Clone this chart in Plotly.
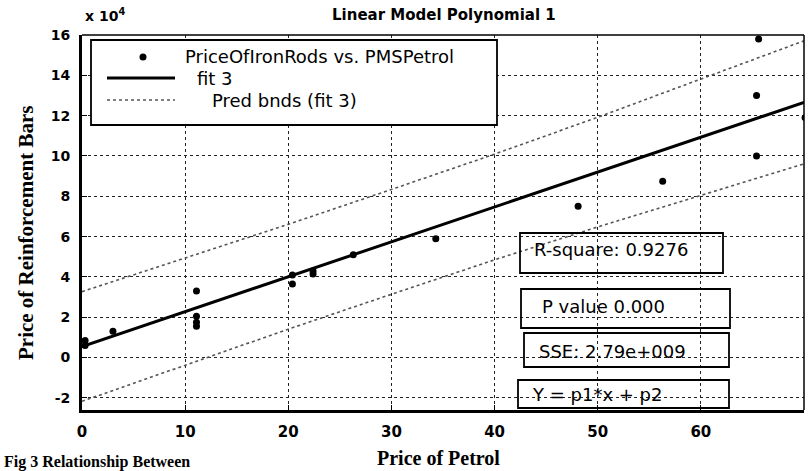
import plotly.graph_objects as go

# Observed data: price of petrol vs price of iron rods (reinforcement bars)
petrol_price = [0.3, 0.3, 3.0, 11.1, 11.1, 11.1, 11.1, 20.4, 20.4, 22.4, 22.4,
                26.3, 34.3, 48.1, 56.3, 65.4, 65.4, 65.6, 70.1]
rod_price = [8500, 6000, 13000, 33000, 20500, 17500, 15500, 41000, 36500, 43000, 41500,
             51000, 59000, 75000, 87500, 100000, 130000, 158000, 119000]

# Linear model Y = p1*x + p2
p1 = 1730.0
p2 = 5500.0

# Prediction bounds of the fit
band_x = [0, 10, 20, 30, 40, 50, 60, 70]
band_upper = [32700, 49300, 66100, 83400, 100900, 119200, 138100, 157100]
band_lower = [-21700, -3700, 14100, 31400, 48500, 64800, 80500, 96100]

# Axis ticks
x_ticks = [0, 10, 20, 30, 40, 50, 60, 70]
y_ticks = [-20000, 0, 20000, 40000, 60000, 80000, 100000, 120000, 140000, 160000]
y_ticktext = ["-2", "0", "2", "4", "6", "8", "10", "12", "14", "16"]

# Fit statistics text
stats = ["R-square: 0.9276", "P value 0.000", "SSE: 2.79e+009", "Y = p1*x + p2"]

W, H = 808, 471
L, R, T, B = 82, 804, 35, 410


def px(x):
    return (x - L) / (R - L)


def py(y):
    return (B - y) / (B - T)


fit_x = [x_ticks[0], x_ticks[-1]]
fit_y = [p1 * v + p2 for v in fit_x]

fig = go.Figure()
fig.add_trace(go.Scatter(x=band_x, y=band_upper, mode="lines",
                         line=dict(color="#555555", width=1.6, dash="dot"),
                         showlegend=False, hoverinfo="skip"))
fig.add_trace(go.Scatter(x=band_x, y=band_lower, mode="lines",
                         line=dict(color="#555555", width=1.6, dash="dot"),
                         showlegend=False, hoverinfo="skip"))
fig.add_trace(go.Scatter(x=fit_x, y=fit_y, mode="lines",
                         line=dict(color="black", width=3),
                         showlegend=False))
fig.add_trace(go.Scatter(x=petrol_price, y=rod_price, mode="markers",
                         marker=dict(color="black", size=7),
                         showlegend=False))

shapes = []
# top and right frame lines
shapes.append(dict(type="line", xref="paper", yref="paper", x0=0, x1=1, y0=1, y1=1,
                   line=dict(color="black", width=1.5), layer="above"))
shapes.append(dict(type="line", xref="paper", yref="paper", x0=1, x1=1, y0=0, y1=1,
                   line=dict(color="black", width=1.5), layer="above"))

# legend box
shapes.append(dict(type="rect", xref="paper", yref="paper",
                   x0=px(91), x1=px(497), y0=py(125), y1=py(40),
                   fillcolor="white", line=dict(color="black", width=1.8), layer="above"))
shapes.append(dict(type="circle", xref="paper", yref="paper",
                   x0=px(139.5), x1=px(146.5), y0=py(60.5), y1=py(53.5),
                   fillcolor="black", line=dict(color="black", width=0), layer="above"))
shapes.append(dict(type="line", xref="paper", yref="paper",
                   x0=px(107), x1=px(175), y0=py(78), y1=py(78),
                   line=dict(color="black", width=3), layer="above"))
shapes.append(dict(type="line", xref="paper", yref="paper",
                   x0=px(107), x1=px(175), y0=py(100), y1=py(100),
                   line=dict(color="#555555", width=1.5, dash="dot"), layer="above"))

# statistic boxes
boxes = [(520, 723, 233, 273), (521, 730, 289, 328), (524, 729, 333, 367), (518, 729, 380, 408)]
text_pos = [(532, 250), (540, 306), (537, 351), (530, 394)]
for (x0, x1, y0, y1) in boxes:
    shapes.append(dict(type="rect", xref="paper", yref="paper",
                       x0=px(x0), x1=px(x1), y0=py(y1), y1=py(y0),
                       line=dict(color="black", width=1.8), layer="above"))

annotations = []
sans = "DejaVu Sans"
legend_items = [("PriceOfIronRods vs. PMSPetrol", 183, 57),
                ("fit 3", 195, 78),
                ("Pred bnds (fit 3)", 210, 100)]
for txt, x, y in legend_items:
    annotations.append(dict(text=txt, xref="paper", yref="paper", x=px(x), y=py(y),
                            xanchor="left", yanchor="middle", showarrow=False,
                            font=dict(family=sans, size=18, color="black")))
for txt, (x, y) in zip(stats, text_pos):
    annotations.append(dict(text=txt, xref="paper", yref="paper", x=px(x), y=py(y),
                            xanchor="left", yanchor="middle", showarrow=False,
                            font=dict(family=sans, size=18, color="black")))

# exponent label
annotations.append(dict(text="x 10<sup>4</sup>", xref="paper", yref="paper",
                        x=px(83), y=py(15), xanchor="left", yanchor="middle",
                        showarrow=False,
                        font=dict(family=sans, size=14, color="black", weight="bold")))
# title
annotations.append(dict(text="Linear Model Polynomial 1", xref="paper", yref="paper",
                        x=px(444), y=py(15), xanchor="center", yanchor="middle",
                        showarrow=False,
                        font=dict(family=sans, size=15, color="black", weight="bold")))
# axis titles
serif = "Liberation Serif"
annotations.append(dict(text="Price of Petrol", xref="paper", yref="paper",
                        x=px(438), y=py(458), xanchor="center", yanchor="middle",
                        showarrow=False,
                        font=dict(family=serif, size=20, color="black", weight="bold")))
annotations.append(dict(text="Price of Reinforcement Bars", xref="paper", yref="paper",
                        x=px(26), y=py(233), xanchor="center", yanchor="middle",
                        textangle=-90, showarrow=False,
                        font=dict(family=serif, size=21, color="black", weight="bold")))
# caption
annotations.append(dict(text="Fig 3 Relationship Between", xref="paper", yref="paper",
                        x=px(2), y=py(462), xanchor="left", yanchor="middle",
                        showarrow=False,
                        font=dict(family=serif, size=16, color="black", weight="bold")))

fig.update_layout(
    width=W, height=H,
    margin=dict(l=L, r=W - R, t=T, b=H - B, pad=0),
    paper_bgcolor="white", plot_bgcolor="white",
    shapes=shapes, annotations=annotations,
    showlegend=False,
    xaxis=dict(range=[0, 70], tickvals=x_ticks, ticks="inside", ticklen=5,
               tickcolor="black", showline=True, linecolor="black", linewidth=3,
               showgrid=True, gridcolor="#222222", gridwidth=1.2, griddash="dot",
               zeroline=False, ticklabelstandoff=6,
               tickfont=dict(family=sans, size=15, color="black", weight="bold")),
    yaxis=dict(range=[-26000, 160000], tickmode="array", tickvals=y_ticks,
               ticktext=y_ticktext, ticks="inside", ticklen=5, tickcolor="black",
               showline=True, linecolor="black", linewidth=3,
               showgrid=True, gridcolor="#222222", gridwidth=1.2, griddash="dot",
               zeroline=False, ticklabelstandoff=6,
               tickfont=dict(family=sans, size=14, color="black", weight="bold")),
)

fig.write_html("out.html")
